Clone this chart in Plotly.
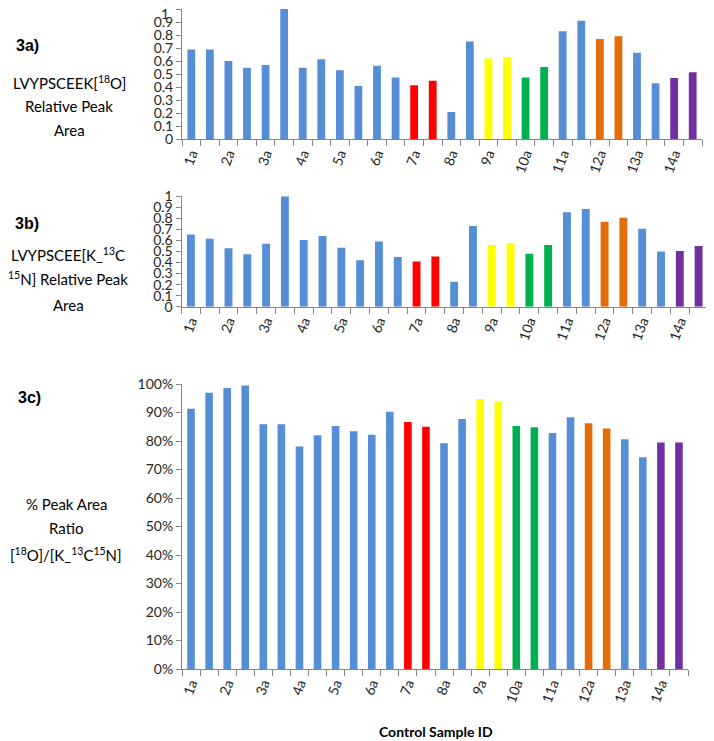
import plotly.graph_objects as go

categories = [f"{i}{s}" for i in range(1, 15) for s in ("a", "b")]

area_18O = [0.69, 0.69, 0.60, 0.55, 0.57, 1.00, 0.55, 0.615, 0.53, 0.41, 0.565, 0.475, 0.415, 0.45,
            0.21, 0.75, 0.62, 0.63, 0.475, 0.555, 0.83, 0.91, 0.77, 0.79, 0.665, 0.43, 0.47, 0.515]
area_13C15N = [0.655, 0.615, 0.53, 0.475, 0.57, 1.00, 0.605, 0.64, 0.535, 0.42, 0.59, 0.45, 0.41, 0.455,
               0.225, 0.73, 0.56, 0.575, 0.48, 0.56, 0.855, 0.885, 0.77, 0.805, 0.705, 0.50, 0.505, 0.55]
ratio_pct = [0.913, 0.969, 0.986, 0.995, 0.859, 0.859, 0.781, 0.820, 0.853, 0.834, 0.822, 0.903, 0.867, 0.850,
             0.792, 0.877, 0.947, 0.939, 0.853, 0.848, 0.828, 0.883, 0.862, 0.844, 0.806, 0.743, 0.795, 0.795]

group_colors = {"7": "#FF0000", "9": "#FFFF00", "10": "#00B050", "12": "#E46C0A", "14": "#7030A0"}
BLUE = "#558ED5"
bar_colors = [group_colors.get(c[:-1], BLUE) for c in categories]

tick_idx = [i for i, c in enumerate(categories) if c.endswith("a")]
tick_txt = [categories[i] for i in tick_idx]

OFF = 8  # page body margin
W, H = 714 - OFF, 741 - OFF
FONT = "Lato, Carlito, Calibri, sans-serif"
AXC = "#868686"
TXT = "#262626"

fig = go.Figure()
xs = list(range(len(categories)))
series = [area_18O, area_13C15N, ratio_pct]
for k, vals in enumerate(series):
    fig.add_trace(go.Bar(x=xs, y=vals, marker=dict(color=bar_colors, line=dict(width=0)),
                         xaxis="x" if k == 0 else f"x{k+1}", yaxis="y" if k == 0 else f"y{k+1}",
                         showlegend=False, hoverinfo="y"))

def px_x(p):
    return (p - OFF) / W

def px_y(p):
    return 1 - (p - OFF) / H

doms = [((182, 702), (9, 139.3)), ((181.5, 708), (196.3, 306.7)), ((182, 688), (384, 669))]
layout = dict(width=W, height=H, margin=dict(l=0, r=0, t=0, b=0, autoexpand=False),
              plot_bgcolor="white", paper_bgcolor="white", bargap=0.58,
              font=dict(family=FONT, size=14, color=TXT))
for k, ((x0, x1), (yt, yb)) in enumerate(doms):
    xn = "xaxis" if k == 0 else f"xaxis{k+1}"
    yn = "yaxis" if k == 0 else f"yaxis{k+1}"
    ya = "y" if k == 0 else f"y{k+1}"
    xa = "x" if k == 0 else f"x{k+1}"
    layout[xn] = dict(domain=[px_x(x0), min(1, px_x(x1))], anchor=ya, range=[-0.5, len(categories) - 0.5],
                      tickmode="array", tickvals=tick_idx, ticktext=tick_txt, tickangle=-70,
                      ticks="", showline=True, linecolor=AXC, linewidth=1, showgrid=False,
                      zeroline=False, automargin=False, tickfont=dict(size=14, color=TXT),
                      minor=dict(ticks="outside", tick0=-0.5, dtick=1, ticklen=6, tickcolor=AXC,
                                 showgrid=False))
    ydict = dict(domain=[px_y(yb), min(1, px_y(yt))], anchor=xa, range=[0, 1], showgrid=False,
                 zeroline=False, showline=True, linecolor=AXC, linewidth=1, ticks="outside",
                 automargin=False, ticklen=5, tickcolor=AXC, tickfont=dict(size=14, color=TXT))
    if k < 2:
        top_lbl = "" if k == 0 else "1"  # panel a's top label drawn separately (page edge)
        ydict.update(tickmode="array", tickvals=[i / 10 for i in range(11)],
                     ticktext=["0"] + [f"0.{i}" for i in range(1, 10)] + [top_lbl])
    else:
        ydict.update(dtick=0.1, tickformat=".0%")
    layout[yn] = ydict
fig.update_layout(**layout)

# top "1" label of panel a, nudged inside the page
fig.add_annotation(text="1", x=px_x(171), y=px_y(14), xref="paper", yref="paper", showarrow=False,
                   xanchor="right", yanchor="middle", font=dict(size=14, family=FONT, color=TXT))

def ann(text, x, y, size=15, bold=False, family=FONT):
    fig.add_annotation(text=f"<b>{text}</b>" if bold else text, x=px_x(x), y=px_y(y),
                       xref="paper", yref="paper", showarrow=False, xanchor="center", yanchor="middle",
                       font=dict(size=size, family=family, color="#000000"), align="center")

BOLDF = "Liberation Sans, Arial, sans-serif"
ann("3a)", 27, 46, 16, True, BOLDF)
for txt, yy in zip(["LVYPSCEEK[<sup>18</sup>O]", "Relative Peak", "Area"], [83, 106, 130]):
    ann(txt, 69, yy)
ann("3b)", 27, 223, 16, True, BOLDF)
for txt, yy in zip(["LVYPSCEE[K_<sup>13</sup>C", "<sup>15</sup>N] Relative Peak", "Area"], [255, 279, 305]):
    ann(txt, 68, yy)
ann("3c)", 29, 397, 16, True, BOLDF)
for txt, yy in zip(["% Peak Area", "Ratio", "[<sup>18</sup>O]/[K_<sup>13</sup>C<sup>15</sup>N]"], [504, 528, 554]):
    ann(txt, 66, yy)
ann("Control Sample ID", 436, 731, 14, True)

fig.write_html("out.html")
